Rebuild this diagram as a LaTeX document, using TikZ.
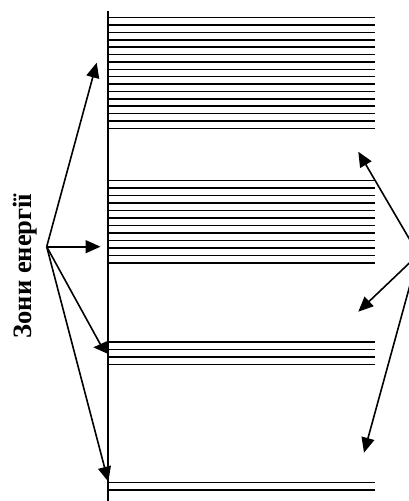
\documentclass[tikz,border=0pt]{standalone}
\usepackage{fontspec}
\setmainfont{Liberation Serif}
\usetikzlibrary{arrows.meta}
\begin{document}
\begin{tikzpicture}[x=1pt,y=-1pt,
  level/.style={line width=1.5pt},
  axisline/.style={line width=2.2pt},
  pointer/.style={line width=1.6pt,-{Triangle[length=15pt,width=13pt]}},
  caption/.style={rotate=90,anchor=base,font=\bfseries\fontsize{26.5}{30}\selectfont,inner sep=0pt}]
\useasboundingbox (0,0) rectangle (409,501);
\clip (0,0) rectangle (409,501);
% energy axis
\coordinate (axTop) at (107.7,10.7);
\coordinate (axBot) at (107.7,501);
\draw[axisline] (axTop) -- (axBot);
% energy levels (bands)
\foreach \i in {0,...,15} \draw[level] (107.7,{17.7+7.37*\i}) -- (374.5,{17.7+7.37*\i});
\foreach \i in {0,...,11} \draw[level] (107.7,{180.7+7.5*\i}) -- (374.5,{180.7+7.5*\i});
\foreach \i in {0,...,3} \draw[level] (107.7,{342+7.43*\i}) -- (374.5,{342+7.43*\i});
\foreach \i in {0,...,1} \draw[level] (107.7,{482.3+7.7*\i}) -- (374.5,{482.3+7.7*\i});
% label
\node[caption] (label) at (31.5,266) {Зони енергії};
% left hub and arrows
\coordinate (hubL) at (46.7,246.7);
\coordinate (tA) at (96.7,62.7);
\coordinate (tB) at (100.5,246.7);
\coordinate (kC) at (102,347.3);
\coordinate (tC) at (93.3,347.3);
\coordinate (tD) at (108.3,481.7);
\draw[pointer] (hubL) -- (tA);
\draw[pointer] (hubL) -- (tB);
\draw[pointer] (hubL) -- (kC) -- (tC);
\draw[pointer] (hubL) -- (tD);
% right hub and arrows
\coordinate (hubR) at (418.4,254.4);
\coordinate (tE) at (358.3,151.7);
\coordinate (tF) at (358.3,311.7);
\coordinate (tG) at (364,452.7);
\draw[pointer] (hubR) -- (tE);
\draw[pointer] (hubR) -- (tF);
\draw[pointer] (hubR) -- (tG);
\end{tikzpicture}
\end{document}
